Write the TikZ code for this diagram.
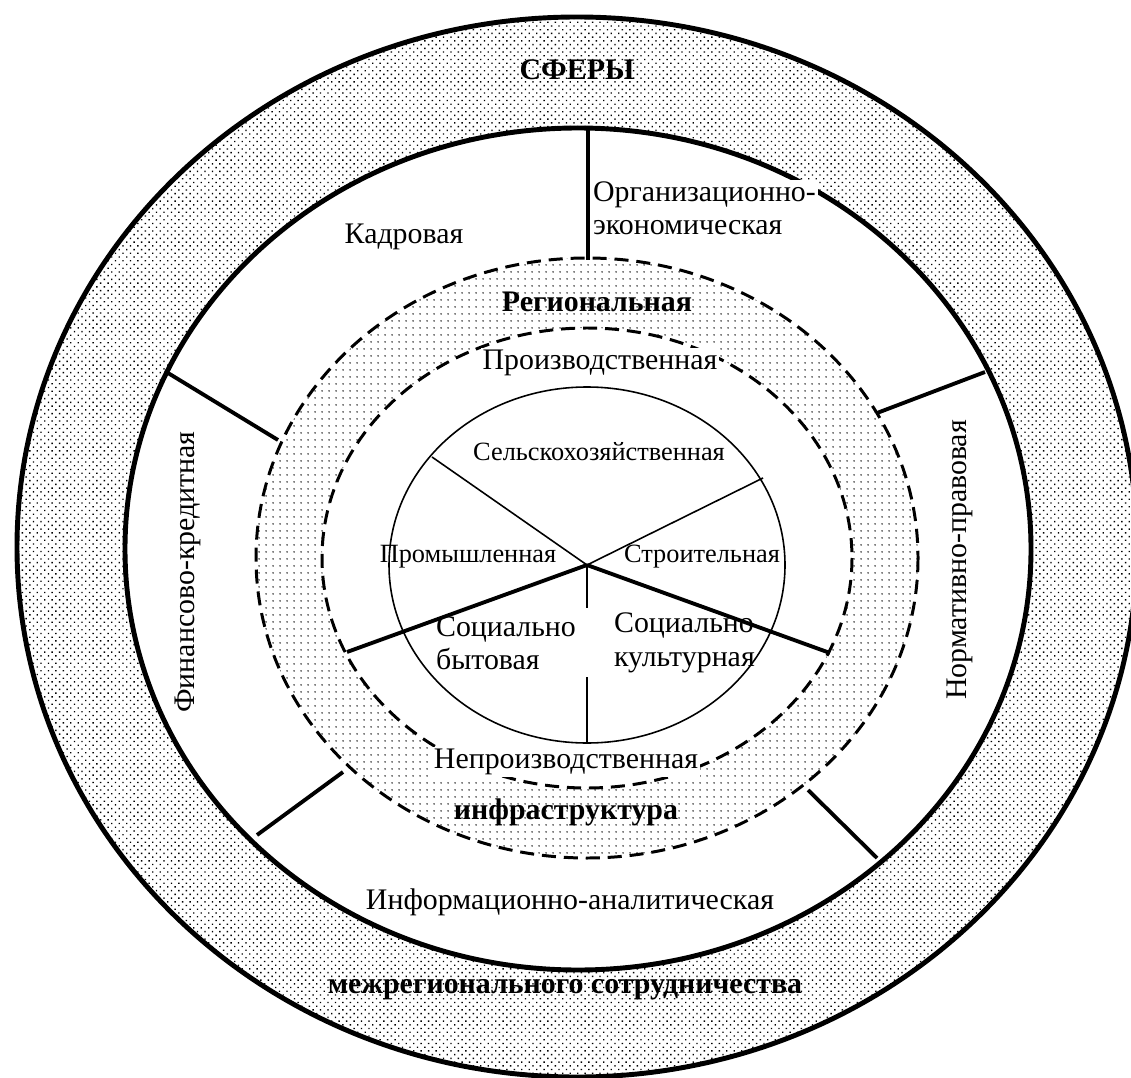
\documentclass[tikz,border=0pt]{standalone}
\usepackage{fontspec}
\setmainfont{Liberation Serif}
\usetikzlibrary{patterns.meta}

\tikzset{
  ring/.style={line width=2.8pt},
  strichring/.style={line width=1.7pt, dash pattern=on 8pt off 4.5pt},
  trenn/.style={line width=2.2pt},
  duenn/.style={line width=0.9pt},
  schrift/.style={font=\fontsize{17}{19}\selectfont, inner sep=1pt},
  klein/.style={font=\fontsize{15}{18}\selectfont, inner sep=1pt},
  fett/.style={font=\fontsize{17}{19}\selectfont\bfseries, inner sep=1pt},
  weiss/.style={fill=white},
}

\begin{document}
\begin{tikzpicture}[x=0.02cm, y=-0.02cm]
\useasboundingbox (0,0) rectangle (1131,1077);
% Aeusserer Ring mit Punkten:
\fill[pattern={Dots[distance=3pt, radius=0.55pt, angle=45]}, even odd rule]
  (577,547) ellipse [x radius=560, y radius=530]
  (578,549) ellipse [x radius=453, y radius=421];
\draw[ring] (577,547) ellipse [x radius=560, y radius=530];
\draw[ring] (578,549) ellipse [x radius=453, y radius=421];
% Gestrichelter Ring:
\fill[pattern={Dots[distance=4pt, radius=0.5pt]}, even odd rule]
  (587,558) ellipse [x radius=331, y radius=300]
  (587,558) ellipse [x radius=265, y radius=230];
\draw[strichring] (587,558) ellipse [x radius=331, y radius=300];
\draw[strichring] (587,558) ellipse [x radius=265, y radius=230];
% Innerer Kreis:
\coordinate (m) at (587,565);
\draw[duenn] (m) ellipse [x radius=198, y radius=178];

% Beschriftungen:
\node[fett] (sfery) at (577,70) {СФЕРЫ};
\node[schrift] (kadr) at (404,237) {Кадровая};
\node[schrift, weiss, align=left, anchor=west] (org) at (591,208) {Организационно-\\экономическая};
\node[fett] (reg) at (597,302) {Региональная};
\node[schrift, weiss] (proizv) at (600,363) {Производственная};
\node[klein] (selsk) at (599,452) {Сельскохозяйственная};
\node[klein] (prom) at (468,557) {Промышленная};
\node[klein] (stroi) at (702,557) {Строительная};
\node[schrift, align=left, anchor=west] (sozb) at (434,643) {Социально\\бытовая};
\node[schrift, align=left, anchor=west] (sozk) at (612,643) {Социально\\культурная};
\node[schrift, weiss] (neproizv) at (566,762) {Непроизводственная};
\node[fett] (infra) at (566,812) {инфраструктура};
\node[schrift, weiss] (inform) at (570,902) {Информационно-аналитическая};
\node[fett] (mezh) at (565,990) {межрегионального сотрудничества};
\node[schrift, rotate=90] (fin) at (188,572) {Финансово-кредитная};
\node[schrift, rotate=90] (norm) at (960,560) {Нормативно-правовая};

% Trennlinien im weissen Ring:
\coordinate (o1) at (588,128);  \coordinate (o2) at (588,260);
\coordinate (lo1) at (168,373); \coordinate (lo2) at (278,440);
\coordinate (ro1) at (985,372); \coordinate (ro2) at (877,413);
\coordinate (lu1) at (257,835); \coordinate (lu2) at (343,772);
\coordinate (ru1) at (877,858); \coordinate (ru2) at (808,790);
\draw[trenn] (o1) -- (o2);
\draw[trenn] (lo1) -- (lo2);
\draw[trenn] (ro1) -- (ro2);
\draw[trenn] (lu1) -- (lu2);
\draw[trenn] (ru1) -- (ru2);
% Linien vom Mittelpunkt aus:
\coordinate (k1) at (432,457); \coordinate (k2) at (763,478);
\coordinate (s1) at (347,652); \coordinate (s2) at (830,653);
\coordinate (v1) at (587,608); \coordinate (v2) at (587,677);
\coordinate (v3) at (587,742);
\draw[duenn] (m) -- (k1);
\draw[duenn] (m) -- (k2);
\draw[trenn] (m) -- (s1);
\draw[trenn] (m) -- (s2);
\draw[duenn] (m) -- (v1);
\draw[duenn] (v2) -- (v3);
\end{tikzpicture}
\end{document}
